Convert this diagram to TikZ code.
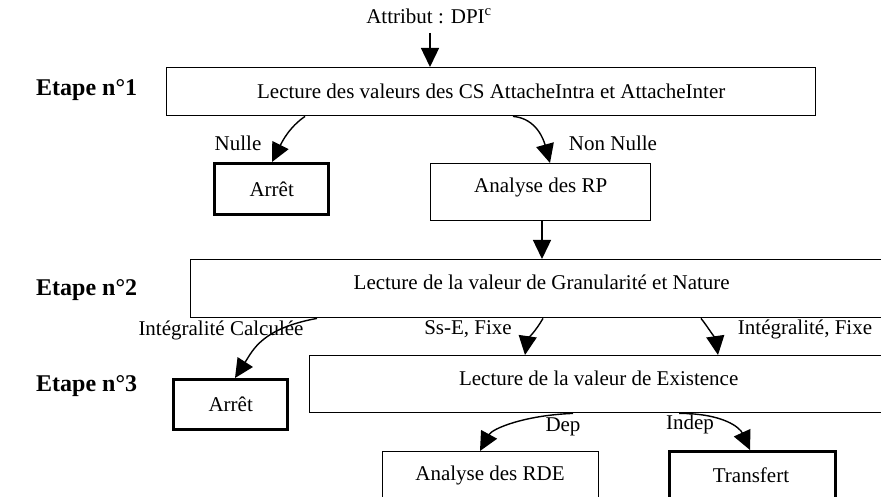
\documentclass[tikz,border=0pt]{standalone}
\usepackage{fontspec}
\setmainfont{Liberation Serif}
\usetikzlibrary{arrows.meta}
\begin{document}
\begin{tikzpicture}[x=1pt,y=-1pt,
  font=\fontsize{21}{25}\selectfont,
  box/.style={draw, line width=1.4pt, inner sep=0pt, anchor=north west},
  stopbox/.style={draw, line width=3.4pt, inner sep=0pt, anchor=north west},
  uptext/.style={text height=15pt, text depth=#1},
  lbl/.style={inner sep=1pt},
  etape/.style={inner sep=1pt, anchor=west, font=\fontsize{24}{28}\selectfont\bfseries},
  arr/.style={line width=1.4pt, -{Triangle[length=19pt,width=18pt]}}]
\useasboundingbox (0,0) rectangle (881,497);
\clip (0,0) rectangle (881,497);

% title
\node[lbl] (attr) at (429,16) {Attribut : DPI\textsuperscript{c}};
\coordinate (a0) at (430,33);

% boxes
\node[box, minimum width=649pt, minimum height=48pt] (b1) at (166,67)
  {Lecture des valeurs des CS AttacheIntra et AttacheInter};
\node[stopbox, minimum width=114pt, minimum height=51pt] (ar1) at (213,162) {Arrêt};
\node[box, uptext=14pt, minimum width=220pt, minimum height=57pt] (rp) at (430,163) {Analyse des RP};
\node[box, uptext=14pt, minimum width=702pt, minimum height=58pt] (b2) at (190,259)
  {Lecture de la valeur de Granularité et Nature};
\node[stopbox, minimum width=114pt, minimum height=50pt] (ar2) at (172,378) {Arrêt};
\node[box, uptext=12pt, minimum width=578pt, minimum height=57pt] (b3) at (309,355)
  {Lecture de la valeur de Existence};
\node[box, minimum width=216pt, minimum height=58pt] (rde) at (382,451) {};
\node[lbl] (trde) at (490,475) {Analyse des RDE};
\node[stopbox, minimum width=166pt, minimum height=58pt] (tr) at (668,450) {};
\node[lbl] (ttr) at (751,475) {Transfert};

% step labels
\node[etape] (e1) at (35,90) {Etape n°1};
\node[etape] (e2) at (35,290) {Etape n°2};
\node[etape] (e3) at (35,386) {Etape n°3};

% edge labels
\node[lbl] (lnulle) at (238,143) {Nulle};
\node[lbl] (lnonnulle) at (613,143) {Non Nulle};
\node[lbl] (lic) at (221,330) {Intégralité Calculée};
\node[lbl] (lss) at (468,329) {Ss-E, Fixe};
\node[lbl] (lif) at (805,329) {Intégralité, Fixe};
\node[lbl] (ldep) at (563,427) {Dep};
\node[lbl] (lindep) at (690,424) {Indep};

% connectors
\draw[arr] (a0) -- (a0 |- b1.north);
\draw[arr] ([xshift=139pt]b1.south west) .. controls +(-16,11) and +(10,-20) .. ([xshift=59pt]ar1.north west);
\draw[arr] ([xshift=347pt]b1.south west) .. controls +(24,2) and +(-6,-22) .. ([xshift=120pt]rp.north west);
\draw[arr] ([xshift=112pt]rp.south west) -- ([xshift=352pt]b2.north west);
\draw[arr] ([xshift=127pt]b2.south west) .. controls +(-55,10) and +(18,-28) .. ([xshift=63pt]ar2.north west);
\draw[arr] ([xshift=353pt]b2.south west) .. controls +(-7,12) and +(2,-14) .. ([xshift=216pt]b3.north west);
\draw[arr] ([xshift=511pt]b2.south west) .. controls +(8,10) and +(-2,-14) .. ([xshift=409pt]b3.north west);
\draw[arr] ([xshift=264pt]b3.south west) .. controls +(-50,2) and +(12,-22) .. ([xshift=98pt]rde.north west);
\draw[arr] ([xshift=370pt]b3.south west) .. controls +(45,0) and +(-10,-22) .. ([xshift=82pt]tr.north west);
\end{tikzpicture}
\end{document}
